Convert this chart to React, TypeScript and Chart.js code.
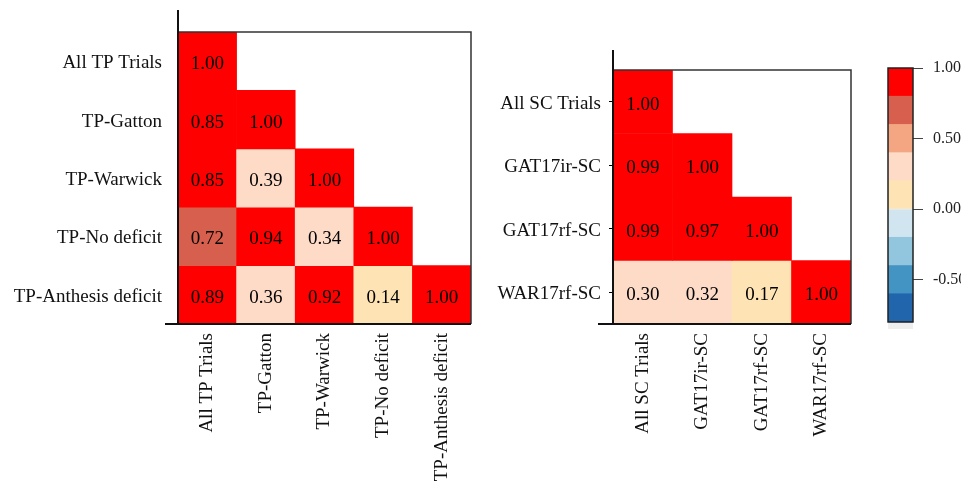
import React, { useEffect, useRef } from "react";
import { Chart, registerables } from "chart.js";

Chart.register(...registerables);

// ---------- data ----------
const tpTrials = ["All TP Trials", "TP-Gatton", "TP-Warwick", "TP-No deficit", "TP-Anthesis deficit"];
const tpCorr = [
  [1.0],
  [0.85, 1.0],
  [0.85, 0.39, 1.0],
  [0.72, 0.94, 0.34, 1.0],
  [0.89, 0.36, 0.92, 0.14, 1.0],
];
const scTrials = ["All SC Trials", "GAT17ir-SC", "GAT17rf-SC", "WAR17rf-SC"];
const scCorr = [
  [1.0],
  [0.99, 1.0],
  [0.99, 0.97, 1.0],
  [0.3, 0.32, 0.17, 1.0],
];
const colorBreaks = [-0.8, -0.6, -0.4, -0.2, 0, 0.2, 0.4, 0.6, 0.8, 1.0];
const colorbarTicks = [1.0, 0.5, 0.0, -0.5];
const naBand = [-0.85, -0.8];

// ---------- styles ----------
const palette = ["#2166AC", "#4393C3", "#92C5DE", "#D1E5F0", "#FEE4B4", "#FDDBC7", "#F4A582", "#D6604D", "#FF0000"];
const naColor = "#EEEEEE";
const SERIF = "'Liberation Serif', 'DejaVu Serif', serif";

function colorFor(v: number): string {
  for (let i = 0; i < palette.length; i++) {
    if (v >= colorBreaks[i] && v <= colorBreaks[i + 1]) return palette[i];
  }
  return v > 1 ? palette[palette.length - 1] : palette[0];
}

type Area = { left: number; top: number; right: number; bottom: number };

function Heatmap(props: {
  labels: string[];
  corr: number[][];
  x: number;
  width: number;
  height: number;
  area: Area;
  extTop: number;
  extLeft: number;
  yTicks: boolean;
  yPad: number;
}) {
  const ref = useRef<HTMLCanvasElement>(null);
  useEffect(() => {
    const { labels, corr, width, height, area, extTop, extLeft, yTicks, yPad } = props;
    const n = labels.length;
    const datasets = corr.map((row, r) => ({
      label: labels[r],
      data: row.map(() => [r - 0.5, r + 0.5]),
      backgroundColor: row.map(colorFor),
      borderWidth: 0,
      grouped: false,
      barPercentage: 1,
      categoryPercentage: 1,
    }));

    const cellText = {
      id: "cellText",
      afterDatasetsDraw(chart: any) {
        const ctx = chart.ctx;
        ctx.save();
        ctx.font = `19px ${SERIF}`;
        ctx.fillStyle = "#000";
        ctx.textAlign = "center";
        ctx.textBaseline = "middle";
        chart.data.datasets.forEach((_: any, di: number) => {
          const meta = chart.getDatasetMeta(di);
          meta.data.forEach((el: any, i: number) => {
            ctx.fillText(corr[di][i].toFixed(2), el.x, (el.y + el.base) / 2 + 3);
          });
        });
        ctx.restore();
      },
    };

    const frame = {
      id: "frame",
      afterDraw(chart: any) {
        const { ctx, chartArea: a } = chart;
        ctx.save();
        ctx.strokeStyle = "#333";
        ctx.lineWidth = 1.5;
        ctx.beginPath();
        ctx.moveTo(a.left, a.top);
        ctx.lineTo(a.right, a.top);
        ctx.lineTo(a.right, a.bottom);
        ctx.stroke();
        ctx.strokeStyle = "#111";
        ctx.lineWidth = 2;
        ctx.beginPath();
        ctx.moveTo(a.left, a.top - extTop);
        ctx.lineTo(a.left, a.bottom);
        ctx.moveTo(a.left - extLeft, a.bottom);
        ctx.lineTo(a.right, a.bottom);
        ctx.stroke();
        ctx.restore();
      },
    };

    const chart = new Chart(ref.current as HTMLCanvasElement, {
      type: "bar",
      data: { labels, datasets: datasets as any },
      options: {
        animation: false,
        responsive: false,
        layout: { padding: { top: area.top, left: 0, right: width - area.right, bottom: 0 } },
        plugins: { legend: { display: false }, tooltip: { enabled: false } },
        scales: {
          x: {
            type: "category",
            offset: true,
            grid: { display: false, drawTicks: false },
            border: { display: false },
            ticks: {
              minRotation: 90,
              maxRotation: 90,
              autoSkip: false,
              padding: 9,
              color: "#111",
              font: { family: SERIF, size: 19 },
            },
            afterFit: (s: any) => {
              s.height = height - area.bottom;
              s.paddingLeft = 0;
              s.paddingRight = 0;
            },
          },
          y: {
            type: "linear",
            reverse: true,
            min: -0.5,
            max: n - 0.5,
            grid: yTicks
              ? { display: true, drawOnChartArea: false, drawTicks: true, tickLength: 4, color: "#000", lineWidth: 1 }
              : { display: false, drawTicks: false },
            border: { display: false },
            afterBuildTicks: (s: any) => {
              s.ticks = labels.map((_, i) => ({ value: i }));
            },
            ticks: {
              autoSkip: false,
              padding: yPad,
              labelOffset: 2,
              color: "#111",
              font: { family: SERIF, size: 19 },
              callback: (v: any) => labels[v] ?? "",
            },
            afterFit: (s: any) => {
              s.width = area.left;
              s.paddingTop = 0;
              s.paddingBottom = 0;
            },
          },
        },
      } as any,
      plugins: [cellText, frame],
    });
    return () => chart.destroy();
  }, []);
  return (
    <canvas
      ref={ref}
      width={props.width}
      height={props.height}
      style={{ position: "absolute", left: props.x, top: 0, width: props.width, height: props.height, display: "block" }}
    />
  );
}

function ColorBar(props: { x: number; width: number; height: number }) {
  const ref = useRef<HTMLCanvasElement>(null);
  useEffect(() => {
    const { width, height } = props;
    const bands = palette.map((c, i) => ({ lo: colorBreaks[i], hi: colorBreaks[i + 1], c }));
    const datasets = [
      ...bands.map((b) => ({
        data: [[b.lo, b.hi]],
        backgroundColor: b.c,
        borderWidth: 0,
        grouped: false,
        barPercentage: 1,
        categoryPercentage: 1,
      })),
      {
        data: [naBand],
        backgroundColor: naColor,
        borderWidth: 0,
        grouped: false,
        barPercentage: 1,
        categoryPercentage: 1,
      },
    ];
    const border = {
      id: "barBorder",
      afterDatasetsDraw(chart: any) {
        const { ctx, chartArea: a, scales } = chart;
        const y1 = scales.y.getPixelForValue(colorBreaks[colorBreaks.length - 1]);
        const y0 = scales.y.getPixelForValue(colorBreaks[0]);
        ctx.save();
        ctx.strokeStyle = "#222";
        ctx.lineWidth = 1.5;
        ctx.strokeRect(a.left, y1, a.right - a.left, y0 - y1);
        ctx.restore();
      },
    };
    const chart = new Chart(ref.current as HTMLCanvasElement, {
      type: "bar",
      data: { labels: [""], datasets: datasets as any },
      options: {
        animation: false,
        responsive: false,
        layout: { padding: { top: 68, left: 28, right: 0, bottom: height - 329 } },
        plugins: { legend: { display: false }, tooltip: { enabled: false } },
        scales: {
          x: { display: false },
          y: {
            type: "linear",
            position: "right",
            min: naBand[0],
            max: colorBreaks[colorBreaks.length - 1],
            grid: { display: true, drawOnChartArea: false, drawTicks: true, tickLength: 10, color: "#444", lineWidth: 1 },
            border: { display: false },
            afterBuildTicks: (s: any) => {
              s.ticks = colorbarTicks.map((v) => ({ value: v }));
            },
            ticks: {
              padding: 10,
              color: "#222",
              font: { family: SERIF, size: 16 },
              callback: (v: any) => Number(v).toFixed(2),
            },
            afterFit: (s: any) => {
              s.width = width - 53;
              s.paddingTop = 0;
              s.paddingBottom = 0;
            },
          },
        },
      } as any,
      plugins: [border],
    });
    return () => chart.destroy();
  }, []);
  return (
    <canvas
      ref={ref}
      width={props.width}
      height={props.height}
      style={{ position: "absolute", left: props.x, top: 0, width: props.width, height: props.height, display: "block" }}
    />
  );
}

export default function App() {
  return (
    <div style={{ position: "fixed", left: 0, top: 0, width: 961, height: 485, background: "#fff", overflow: "hidden" }}>
      <Heatmap
        labels={tpTrials}
        corr={tpCorr}
        x={0}
        width={480}
        height={485}
        area={{ left: 178, top: 32, right: 471, bottom: 324 }}
        extTop={22}
        extLeft={13}
        yTicks={false}
        yPad={16}
      />
      <Heatmap
        labels={scTrials}
        corr={scCorr}
        x={480}
        width={380}
        height={485}
        area={{ left: 133, top: 70, right: 371, bottom: 324 }}
        extTop={20}
        extLeft={15}
        yTicks={true}
        yPad={8}
      />
      <ColorBar x={860} width={101} height={485} />
    </div>
  );
}
